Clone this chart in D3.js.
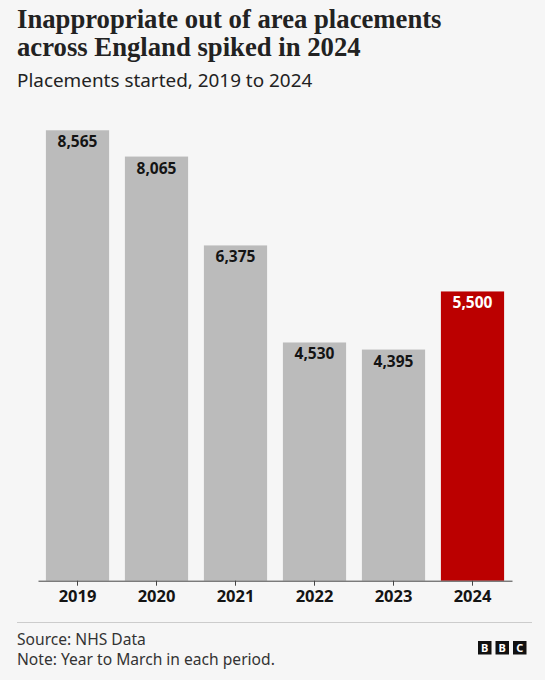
<!DOCTYPE html>
<html>
<head>
<meta charset="utf-8">
<script src="https://cdn.jsdelivr.net/npm/d3@7"></script>
<style>
  html, body { margin: 0; padding: 0; background: #f6f6f6; }
  svg { display: block; }
</style>
</head>
<body>
<script>
const years = ["2019", "2020", "2021", "2022", "2023", "2024"];
const placements = [8565, 8065, 6375, 4530, 4395, 5500];
const highlightYear = "2024";
const titleLines = ["Inappropriate out of area placements", "across England spiked in 2024"];
const subtitle = "Placements started, 2019 to 2024";
const footerLines = ["Source: NHS Data", "Note: Year to March in each period."];

const W = 545, H = 680;
const svg = d3.select("body").append("svg").attr("width", W).attr("height", H);
svg.append("rect").attr("width", W).attr("height", H).attr("fill", "#f6f6f6");

const sans = "'Noto Sans', 'Open Sans', Arial, sans-serif";
const serif = "'Liberation Serif', 'DejaVu Serif', serif";

// Title
svg.append("g").selectAll("text").data(titleLines).join("text")
  .attr("x", 17).attr("y", (d, i) => 27.5 + i * 28)
  .attr("font-family", serif).attr("font-weight", "bold").attr("font-size", 26.7)
  .attr("fill", "#222").text(d => d);

svg.append("text").attr("x", 17).attr("y", 87)
  .attr("font-family", sans).attr("font-size", 18.9).attr("fill", "#222").text(subtitle);

// Scales
const x = d3.scaleBand().domain(years).range([38, 512]).paddingInner(0.2).paddingOuter(0.1);
const y0 = 580.7;
const y = d3.scaleLinear().domain([0, 9000]).range([y0, y0 - 9000 * 0.05259]);

const data = years.map((yr, i) => ({ year: yr, value: placements[i] }));

svg.append("g").selectAll("rect").data(data).join("rect")
  .attr("x", d => x(d.year)).attr("width", x.bandwidth())
  .attr("y", d => y(d.value)).attr("height", d => y(0) - y(d.value))
  .attr("fill", d => d.year === highlightYear ? "#bb0000" : "#bbbbbb");

svg.append("g").selectAll("text").data(data).join("text")
  .attr("x", d => x(d.year) + x.bandwidth() / 2)
  .attr("y", d => y(d.value) + 17)
  .attr("text-anchor", "middle")
  .attr("font-family", sans).attr("font-weight", "bold").attr("font-size", 15.5)
  .attr("fill", d => d.year === highlightYear ? "#ffffff" : "#141414")
  .text(d => d3.format(",")(d.value));

// Axis
const axis = svg.append("g").attr("transform", `translate(0,${y0})`)
  .call(d3.axisBottom(x).tickSize(5).tickSizeOuter(0));
axis.select(".domain").attr("stroke", "#444").attr("stroke-width", 1);
axis.selectAll(".tick line").attr("stroke", "#444");
axis.selectAll(".tick text").attr("font-family", sans).attr("font-weight", "bold")
  .attr("font-size", 16.5).attr("fill", "#141414").attr("dy", null).attr("y", 21);

// Footer
svg.append("line").attr("x1", 17).attr("x2", 532).attr("y1", 622.5).attr("y2", 622.5)
  .attr("stroke", "#cccccc").attr("stroke-width", 1);
svg.append("g").selectAll("text").data(footerLines).join("text")
  .attr("x", 17).attr("y", (d, i) => 644.5 + i * 20.5)
  .attr("font-family", sans).attr("font-size", 15.6).attr("fill", "#333").text(d => d);

// BBC blocks
const logo = svg.append("g").attr("transform", "translate(478,641)");
["B", "B", "C"].forEach((ch, i) => {
  logo.append("rect").attr("x", i * 17.5).attr("y", 0).attr("width", 13.5).attr("height", 13.5).attr("fill", "#111");
  logo.append("text").attr("x", i * 17.5 + 6.75).attr("y", 11).attr("text-anchor", "middle")
    .attr("font-family", sans).attr("font-weight", "bold").attr("font-size", 11).attr("fill", "#fff").text(ch);
});
</script>
</body>
</html>
